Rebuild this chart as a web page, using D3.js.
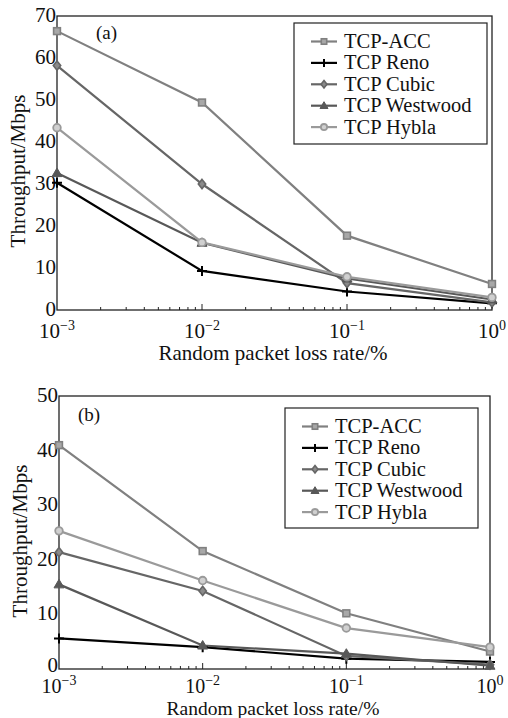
<!DOCTYPE html>
<html><head><meta charset="utf-8">
<script src="https://cdn.jsdelivr.net/npm/d3@7"></script>
<style>body{margin:0;background:#fff}svg{display:block}</style>
</head><body>
<script>
const lossRates = [0.001, 0.01, 0.1, 1];
const seriesNames = ["TCP-ACC", "TCP Reno", "TCP Cubic", "TCP Westwood", "TCP Hybla"];
const valuesA = {
  "TCP-ACC":      [66.4, 49.4, 17.7, 6.2],
  "TCP Reno":     [30.3, 9.3, 4.4, 1.6],
  "TCP Cubic":    [58.2, 30.0, 6.4, 1.8],
  "TCP Westwood": [32.6, 16.0, 7.5, 2.5],
  "TCP Hybla":    [43.4, 16.1, 7.9, 3.0]
};
const valuesB = {
  "TCP-ACC":      [41.0, 21.6, 10.2, 3.2],
  "TCP Reno":     [5.6, 4.0, 1.9, 1.3],
  "TCP Cubic":    [21.4, 14.3, 2.4, 0.8],
  "TCP Westwood": [15.5, 4.3, 2.8, 0.6],
  "TCP Hybla":    [25.3, 16.2, 7.5, 4.0]
};
const yTicksA = [0, 10, 20, 30, 40, 50, 60, 70];
const yTicksB = [0, 10, 20, 30, 40, 50];
const xTickExps = ["−3", "−2", "−1", "0"];
const panelLabels = ["(a)", "(b)"];
const yTitle = "Throughput/Mbps";
const xTitle = "Random packet loss rate/%";

const styles = {
  "TCP-ACC":      {color: "#808080", fill: "#a8a8a8", marker: "square"},
  "TCP Reno":     {color: "#000000", fill: "#000", marker: "plus"},
  "TCP Cubic":    {color: "#666666", fill: "#8a8a8a", marker: "diamond"},
  "TCP Westwood": {color: "#585858", fill: "#585858", marker: "triangle"},
  "TCP Hybla":    {color: "#9a9a9a", fill: "#d0d0d0", marker: "circle"}
};

const FONT = "'Liberation Serif', 'DejaVu Serif', serif";
const svg = d3.select("body").append("svg").attr("width", 508).attr("height", 718)
  .attr("font-family", FONT);

function txt(g) { return g.append("text").attr("font-family", FONT).attr("fill", "#111"); }

function panel(cfg) {
  const {left, right, top, bottom, ymax, yTicks, values, label, labelPos, legend,
         xTitleY, xTitleSize, xTickDy, xTickSize, zeroDy, yTitleCy} = cfg;
  const g = svg.append("g");
  const x = d3.scaleLog().domain([0.001, 1]).range([left, right]);
  const y = d3.scaleLinear().domain([0, ymax]).range([bottom, top]);

  g.append("rect").attr("x", left).attr("y", top).attr("width", right - left).attr("height", bottom - top)
    .attr("fill", "none").attr("stroke", "#222").attr("stroke-width", 1.3);

  const minor = [];
  for (let e = -3; e < 0; e++) for (let k = 2; k <= 9; k++) minor.push(k * Math.pow(10, e));
  g.selectAll(".mt").data(minor).enter().append("line")
    .attr("x1", d => x(d)).attr("x2", d => x(d)).attr("y1", bottom).attr("y2", bottom - 3)
    .attr("stroke", "#222").attr("stroke-width", 1);
  g.selectAll(".Mt").data(lossRates.slice(1, 3)).enter().append("line")
    .attr("x1", d => x(d)).attr("x2", d => x(d)).attr("y1", bottom).attr("y2", bottom - 6)
    .attr("stroke", "#222").attr("stroke-width", 1);

  lossRates.forEach((d, i) => {
    const t = txt(g).attr("x", x(d)).attr("y", bottom + xTickDy).attr("text-anchor", "middle").attr("font-size", xTickSize);
    t.append("tspan").text("10");
    t.append("tspan").attr("dy", -8).attr("font-size", 14).text(xTickExps[i]);
  });

  g.selectAll(".yl").data(yTicks).enter().append("text")
    .attr("font-family", FONT).attr("fill", "#111")
    .attr("x", left - 1).attr("y", d => y(d) + (d === 0 ? zeroDy : 6)).attr("text-anchor", "end").attr("font-size", 21)
    .text(d => d);

  txt(g).attr("transform", `translate(${left - 32},${yTitleCy}) rotate(-90)`)
    .attr("text-anchor", "middle").attr("font-size", 21).text(yTitle);
  txt(g).attr("x", 273).attr("y", xTitleY).attr("text-anchor", "middle")
    .attr("font-size", xTitleSize).text(xTitle);
  txt(g).attr("x", labelPos[0]).attr("y", labelPos[1]).attr("font-size", 19).text(label);

  const line = d3.line().x((d, i) => x(lossRates[i])).y(d => y(d));
  seriesNames.forEach(name => {
    const s = styles[name];
    g.append("path").datum(values[name]).attr("d", line).attr("fill", "none")
      .attr("stroke", s.color).attr("stroke-width", 2.2);
  });
  seriesNames.forEach(name => {
    values[name].forEach((v, i) => drawMarker(g, x(lossRates[i]), y(v), styles[name], 1));
  });

  const lg = g.append("g");
  lg.append("rect").attr("x", legend.x).attr("y", legend.y).attr("width", legend.w).attr("height", legend.h)
    .attr("fill", "#fff").attr("stroke", "#222").attr("stroke-width", 1.2);
  seriesNames.forEach((name, i) => {
    const s = styles[name];
    const cy = legend.y + 18.5 + i * 21.4;
    lg.append("line").attr("x1", legend.lx1).attr("x2", legend.lx2).attr("y1", cy).attr("y2", cy)
      .attr("stroke", s.color).attr("stroke-width", 2.2);
    drawMarker(lg, (legend.lx1 + legend.lx2) / 2, cy, s, 0.8);
    txt(lg).attr("x", legend.tx).attr("y", cy + 6.5).attr("font-size", 20.5).text(name);
  });
}

function drawMarker(g, cx, cy, s, k) {
  const r = 3.4 * k;
  if (s.marker === "square") {
    g.append("rect").attr("x", cx - r).attr("y", cy - r).attr("width", 2 * r).attr("height", 2 * r)
      .attr("fill", s.fill).attr("stroke", s.color).attr("stroke-width", 1.6);
  } else if (s.marker === "plus") {
    g.append("path").attr("d", `M${cx - 5 * k},${cy}H${cx + 5 * k}M${cx},${cy - 5 * k}V${cy + 5 * k}`)
      .attr("stroke", s.color).attr("stroke-width", 2);
  } else if (s.marker === "diamond") {
    const d = 4.6 * k;
    g.append("path").attr("d", `M${cx},${cy - d}L${cx + d * 0.8},${cy}L${cx},${cy + d}L${cx - d * 0.8},${cy}Z`)
      .attr("fill", s.fill).attr("stroke", s.color).attr("stroke-width", 1.6);
  } else if (s.marker === "triangle") {
    const d = 5 * k;
    g.append("path").attr("d", `M${cx},${cy - d}L${cx + d},${cy + d * 0.7}L${cx - d},${cy + d * 0.7}Z`)
      .attr("fill", s.fill).attr("stroke", s.color).attr("stroke-width", 1);
  } else {
    g.append("circle").attr("cx", cx).attr("cy", cy).attr("r", r + 0.4)
      .attr("fill", s.fill).attr("stroke", s.color).attr("stroke-width", 1.8);
  }
}

panel({left: 57, right: 492, top: 16, bottom: 310, ymax: 70, yTicks: yTicksA, values: valuesA,
  label: panelLabels[0], labelPos: [96, 39], xTitleY: 360, xTitleSize: 21, xTickDy: 28, xTickSize: 21,
  zeroDy: 6, yTitleCy: 171,
  legend: {x: 294, y: 23, w: 193, h: 121, lx1: 311, lx2: 337, tx: 344}});
panel({left: 59, right: 490, top: 396, bottom: 669, ymax: 50, yTicks: yTicksB, values: valuesB,
  label: panelLabels[1], labelPos: [78, 421], xTitleY: 715, xTitleSize: 19.5, xTickDy: 24, xTickSize: 20,
  zeroDy: 2.5, yTitleCy: 541,
  legend: {x: 285, y: 408, w: 193, h: 120, lx1: 302, lx2: 328, tx: 335}});
</script>
</body></html>
